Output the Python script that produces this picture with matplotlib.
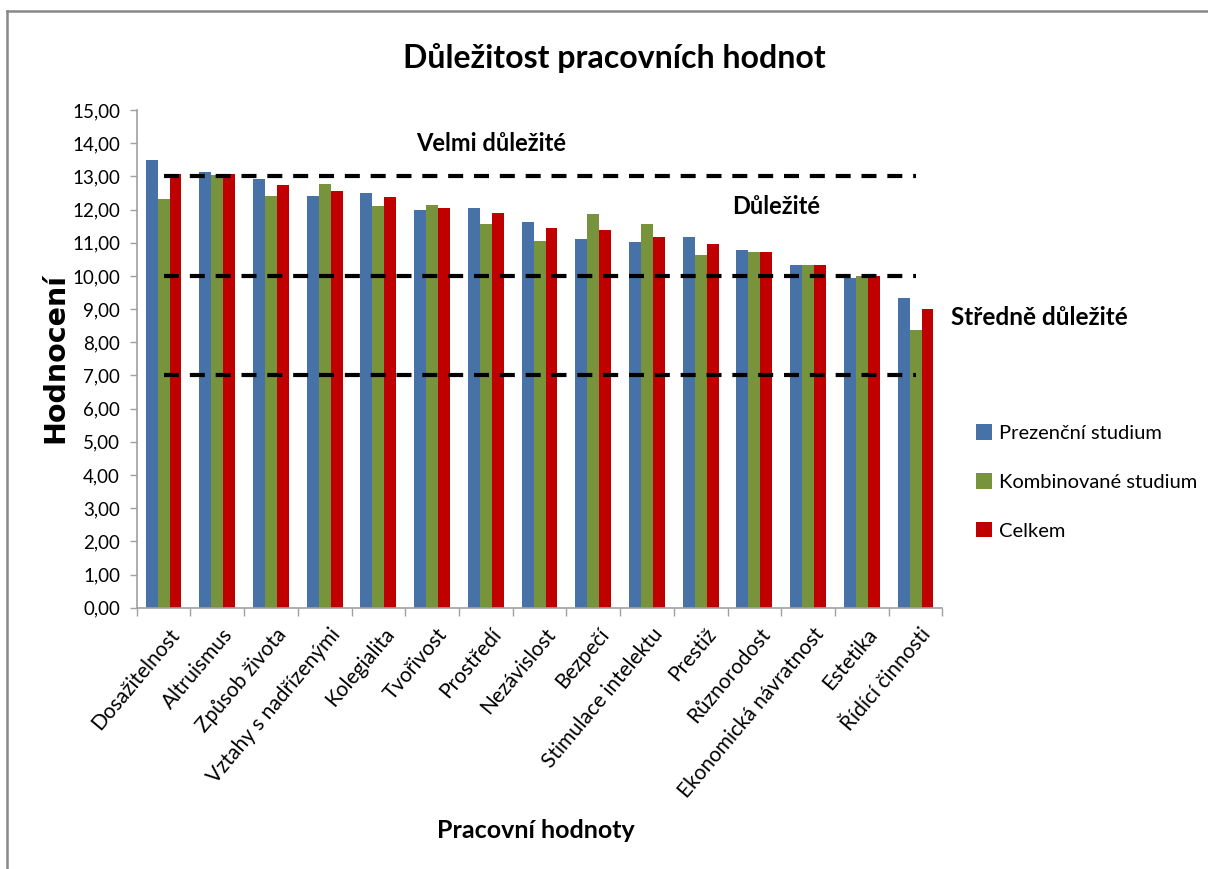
import matplotlib
matplotlib.use("Agg")
import matplotlib.pyplot as plt
from matplotlib.lines import Line2D
from matplotlib.patches import Patch
from matplotlib.ticker import FuncFormatter, FixedLocator
import numpy as np

categories = ["Dosažitelnost", "Altruismus", "Způsob života", "Vztahy s nadřízenými",
              "Kolegialita", "Tvořivost", "Prostředí", "Nezávislost", "Bezpečí",
              "Stimulace intelektu", "Prestiž", "Různorodost", "Ekonomická návratnost",
              "Estetika", "Řídící činnosti"]
prezencni = [13.50, 13.12, 12.92, 12.40, 12.51, 12.00, 12.06, 11.61, 11.11, 11.01,
             11.18, 10.77, 10.34, 9.94, 9.32]
kombinovane = [12.33, 13.05, 12.40, 12.78, 12.10, 12.13, 11.55, 11.04, 11.88, 11.55,
               10.62, 10.73, 10.34, 10.01, 8.36]
celkem = [13.08, 13.08, 12.75, 12.55, 12.37, 12.04, 11.89, 11.45, 11.37, 11.18,
          10.96, 10.73, 10.34, 10.01, 8.99]
series_names = ["Prezenční studium", "Kombinované studium", "Celkem"]
thresholds = [13, 10, 7]
zone_labels = ["Velmi důležité", "Důležité", "Středně důležité"]
title = "Důležitost pracovních hodnot"
xlabel = "Pracovní hodnoty"
ylabel = "Hodnocení"

colors = ["#4672A8", "#77933C", "#C00000"]
FONT = ["Lato", "DejaVu Sans"]

W, H = 1208, 869
fig = plt.figure(figsize=(W / 100, H / 100), dpi=100)
fig.patch.set_facecolor("white")

left, right, top, bottom = 136.7, 942.4, 110, 607.7
ax = fig.add_axes([left / W, 1 - bottom / H, (right - left) / W, (bottom - top) / H])

n = len(categories)
x = np.arange(n)
bw = 0.667 / 3
for i, (vals, c) in enumerate(zip([prezencni, kombinovane, celkem], colors)):
    ax.bar(x + (i - 1) * bw, vals, width=bw, color=c, edgecolor="none", zorder=2)

for t in thresholds:
    ax.plot([0, n - 1], [t, t], color="black", lw=3.0, dashes=(3.6, 2.6),
            dash_capstyle="butt", zorder=3)

ax.set_xlim(-0.5, n - 0.5)
ax.set_ylim(0, 15)
ax.set_yticks(np.arange(0, 16, 1))
ax.yaxis.set_major_formatter(FuncFormatter(lambda v, p: f"{v:.2f}".replace(".", ",")))
for lab in ax.get_yticklabels():
    lab.set_family(FONT)
    lab.set_fontsize(13.5)
ax.tick_params(axis="y", length=5, color="#A0A0A0", width=1, pad=7)

ax.set_xticks(x + 0.08)
ax.set_xticklabels(categories, rotation=50, ha="right", va="top",
                   rotation_mode="anchor", family=FONT, fontsize=15)
ax.tick_params(axis="x", which="major", length=0, pad=12)
ax.xaxis.set_minor_locator(FixedLocator(np.arange(-0.5, n, 1.0)))
ax.tick_params(axis="x", which="minor", length=6, color="#A0A0A0", width=1)

for s in ["top", "right"]:
    ax.spines[s].set_visible(False)
for s in ["left", "bottom"]:
    ax.spines[s].set_color("#A0A0A0")
    ax.spines[s].set_linewidth(1.2)

# zone labels
ax.text(6.1, 14.0, zone_labels[0], ha="center", va="center", fontsize=17,
        fontweight="bold", family=FONT)
ax.text(11.4, 12.1, zone_labels[1], ha="center", va="center", fontsize=17,
        fontweight="bold", family=FONT)
ax.text(16.3, 8.74, zone_labels[2], ha="center", va="center", fontsize=17.5,
        fontweight="bold", family=FONT, clip_on=False)

fig.text(614 / W, 1 - 58 / H, title, ha="center", va="center", fontsize=23,
         fontweight="bold", family=FONT)
fig.text(536 / W, 1 - 830 / H, xlabel, ha="center", va="center", fontsize=18,
         fontweight="bold", family=FONT)
fig.text(55 / W, 1 - 358 / H, ylabel, ha="center", va="center", rotation=90,
         fontsize=20.5, fontweight="bold", family="DejaVu Sans")

handles = [Patch(facecolor=c, edgecolor="none") for c in colors]
fig.legend(handles, series_names, loc="center left",
           bbox_to_anchor=(966 / W, 1 - 482 / H), frameon=False,
           prop={"family": FONT, "size": 14.5}, handlelength=0.8, handleheight=0.8,
           handletextpad=0.35, labelspacing=1.55, borderpad=0)

# figure border (top and left visible)
fig.add_artist(Line2D([7 / W, 7 / W], [0, 1 - 11 / H], transform=fig.transFigure,
                      color="#888888", lw=1.8))
fig.add_artist(Line2D([7 / W, 1], [1 - 11 / H, 1 - 11 / H], transform=fig.transFigure,
                      color="#888888", lw=1.8))

fig.savefig("out.png", dpi=100, facecolor="white")
